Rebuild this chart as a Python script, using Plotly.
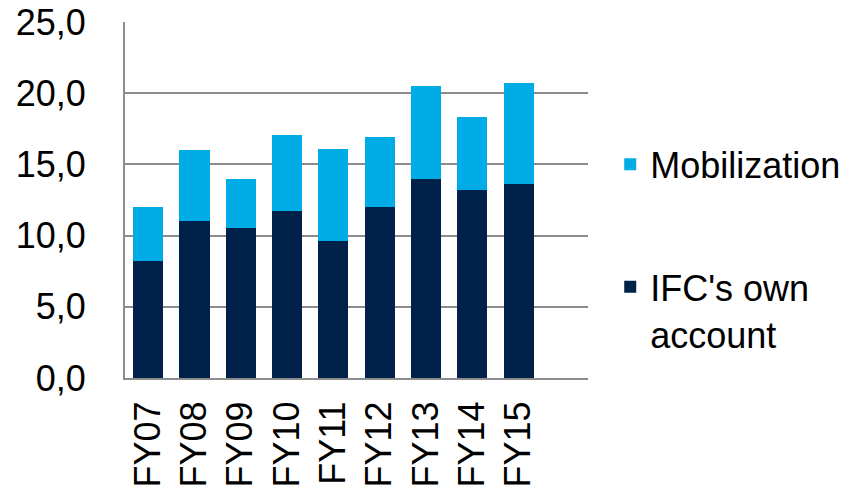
import plotly.graph_objects as go

years = ["FY07", "FY08", "FY09", "FY10", "FY11", "FY12", "FY13", "FY14", "FY15"]
own_account = [8.2, 11.0, 10.5, 11.7, 9.6, 12.0, 14.0, 13.2, 13.6]
mobilization = [3.8, 5.0, 3.5, 5.4, 6.5, 4.9, 6.5, 5.1, 7.1]
y_ticks = [0, 5, 10, 15, 20, 25]

DARK = "#00224A"
LIGHT = "#00ACE5"
GRID = "#8C8C8C"
FONT = "Liberation Sans, Arial, sans-serif"
FS = 36

fig = go.Figure()
fig.add_trace(go.Bar(
    x=years, y=own_account, name="IFC's own<br>account",
    marker=dict(color=DARK, line=dict(width=0)), legend="legend2",
    showlegend=True,
))
fig.add_trace(go.Bar(
    x=years, y=mobilization, name="Mobilization",
    marker=dict(color=LIGHT, line=dict(width=0)), legend="legend",
    showlegend=True,
))

fig.update_layout(
    width=866, height=499,
    barmode="stack", bargap=0.35,
    separators=", ",
    showlegend=True,
    paper_bgcolor="white", plot_bgcolor="white",
    font=dict(family=FONT, size=FS, color="black"),
    margin=dict(l=125, r=278, t=22, b=121, autoexpand=False),
    xaxis=dict(
        type="category", range=[-0.5, 9.5],
        tickangle=-90, showgrid=False,
        showline=True, linecolor=GRID, linewidth=2,
        ticks="", ticklabelstandoff=7, automargin=False,
        tickfont=dict(size=FS),
    ),
    yaxis=dict(
        range=[0, 25], tickvals=y_ticks, tickformat=".1f",
        showgrid=True, gridcolor=GRID, gridwidth=2,
        showline=True, linecolor=GRID, linewidth=2,
        zeroline=False, ticks="", ticklabelstandoff=30, automargin=False,
        tickfont=dict(size=FS),
    ),
    legend=dict(
        x=1.048, xanchor="left", y=0.60, yanchor="middle",
        font=dict(size=FS), bgcolor="rgba(0,0,0,0)", valign="top",
        visible=True,
    ),
    legend2=dict(
        x=1.048, xanchor="left", y=0.19, yanchor="middle",
        font=dict(size=FS), bgcolor="rgba(0,0,0,0)", valign="top",
        visible=True,
    ),
)

fig.write_html("out.html")
